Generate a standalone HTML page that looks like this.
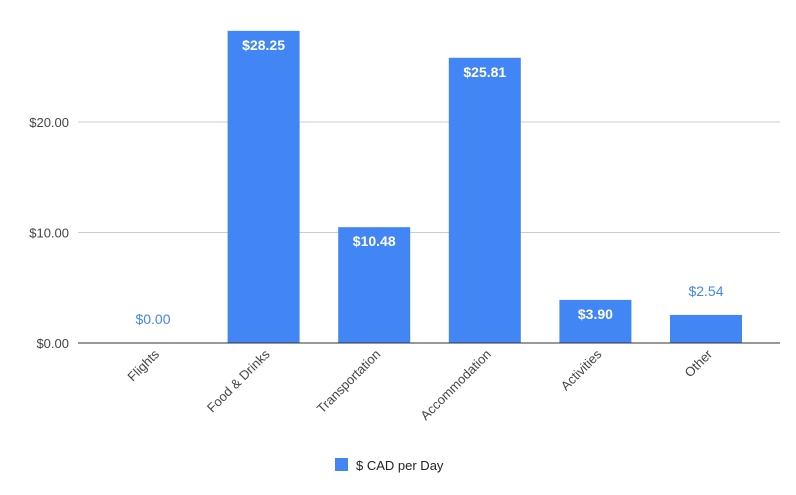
<!DOCTYPE html>
<html><head><meta charset="utf-8"><style>
body{margin:0;background:#fff}
svg{display:block;font-family:"Liberation Sans",Arial,sans-serif}
</style></head><body>
<svg id="chart" width="796" height="495"></svg>
<script>
const categories=["Flights","Food & Drinks","Transportation","Accommodation","Activities","Other"];
const values=[0,28.25,10.48,25.81,3.90,2.54];
const valueLabels=["$0.00","$28.25","$10.48","$25.81","$3.90","$2.54"];
const ticks=[0,10,20];
const tickLabels=["$0.00","$10.00","$20.00"];
const NS="http://www.w3.org/2000/svg";
const svg=document.getElementById('chart');
const left=78,right=780,y0=343,pxPerUnit=11.05;
const band=(right-left+20)/categories.length;
const y=v=>y0-v*pxPerUnit;
const xc=i=>153+i*110.6;
function mk(t,a,p){const e=document.createElementNS(NS,t);for(const k in a)e.setAttribute(k,a[k]);(p||svg).appendChild(e);return e;}
ticks.forEach((t,i)=>{
  if(t!==0){const l=mk('line',{x1:left,x2:right,y1:y(t),y2:y(t),stroke:'#ccc','stroke-width':1});
  
  }
  const tx=mk('text',{x:69,y:y(t)+5,'text-anchor':'end','font-size':13,fill:'#444'});
  tx.textContent=tickLabels[i];
  
  
});
values.forEach((v,i)=>{
  const cx=xc(i),w=72;
  if(v>0){const r=mk('rect',{x:cx-w/2,y:y(v),width:w,height:y0-y(v),fill:'#4285f4'});
  
  }
  const inside=(y0-y(v))>30;
  const t=mk('text',{x:cx,y:inside?y(v)+19:y(v)-19,'text-anchor':'middle','font-size':14,fill:inside?'#fff':'#4285f4','font-weight':inside?'bold':'normal'});
  t.textContent=valueLabels[i];
  
  
  const lx=cx+7,ly=355;
  const c=mk('text',{x:lx,y:ly,'text-anchor':'end','font-size':13,fill:'#444',transform:`rotate(-45 ${lx} ${ly})`});
  c.textContent=categories[i];
  
  
});
const ax=mk('line',{x1:left,x2:right,y1:y0,y2:y0,stroke:'#333','stroke-width':1});


const lg=mk('rect',{x:335,y:458,width:13,height:13,fill:'#4285f4'});


const lt=mk('text',{x:356,y:470,'font-size':13,fill:'#222'});
lt.textContent='$ CAD per Day';


</script>
</body></html>
